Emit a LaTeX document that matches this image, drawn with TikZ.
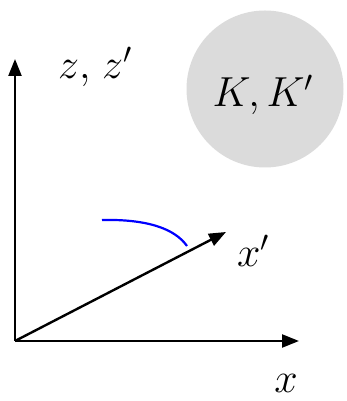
\RequirePackage{fix-cm}
\documentclass[tikz,border=0pt]{standalone}
\usetikzlibrary{arrows.meta}
\begin{document}
\begin{tikzpicture}[x=1pt, y=1pt, >={Triangle[length=17pt,width=13pt]},
      axis/.style={->, line width=2.4pt},
      lbl/.style={inner sep=0pt, font=\fontsize{42}{46}\selectfont}]
    \useasboundingbox (0,0) rectangle (347,401);
    % frame label in the grey disc
    \node[circle, fill=gray!28, minimum size=157pt, inner sep=0pt] (disc) at (265,312) {};
    \node[lbl] (kk) at (263,306) {$K,K'$};
    % axes
    \coordinate (o) at (15,60);
    \coordinate (ztip) at (15,342);
    \coordinate (xtip) at (299,60);
    \coordinate (xptip) at (226,169);
    \draw[axis] (o) -- (ztip);
    \draw[axis] (o) -- (xtip);
    \draw[axis] (o) -- (xptip);
    % rotation arc
    \coordinate (arcA) at (102,181);
    \coordinate (arcB) at (187,155);
    \draw[blue, line width=2.2pt] (arcA) .. controls (148,182) and (175,172) .. (arcB);
    % axis labels
    \node[lbl] (zl) at (95,334) {$z,\;\!z'$};
    \node[lbl] (xpl) at (253,150) {$x'$};
    \node[lbl] (xl) at (286,18) {$x$};
\end{tikzpicture}
\end{document}
